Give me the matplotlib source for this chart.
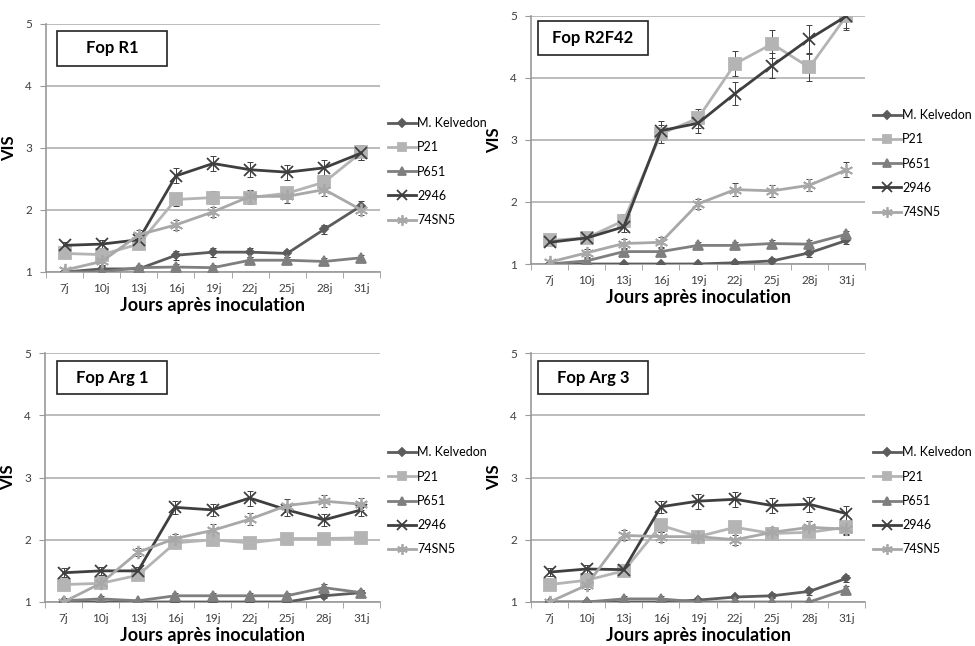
import matplotlib
matplotlib.use("Agg")
import matplotlib.pyplot as plt
from matplotlib.patches import Rectangle
import numpy as np

plt.rcParams['font.family'] = ['Lato', 'DejaVu Sans']

jours = ["7j", "10j", "13j", "16j", "19j", "22j", "25j", "28j", "31j"]
lignees = ["M. Kelvedon", "P21", "P651", "2946", "74SN5"]

# Fop R1
r1_kelvedon = [1.0, 1.05, 1.05, 1.27, 1.32, 1.32, 1.30, 1.69, 2.07]
r1_p21 = [1.30, 1.28, 1.45, 2.17, 2.20, 2.20, 2.27, 2.45, 2.93]
r1_p651 = [1.0, 1.0, 1.07, 1.08, 1.07, 1.19, 1.19, 1.17, 1.23]
r1_2946 = [1.43, 1.45, 1.52, 2.55, 2.75, 2.65, 2.61, 2.68, 2.92]
r1_74sn5 = [1.03, 1.17, 1.60, 1.76, 1.97, 2.22, 2.22, 2.33, 2.00]
r1_err = [[0, 0.05, 0.05, 0.07, 0.07, 0.07, 0.06, 0.07, 0.08],
          [0.06, 0.06, 0.08, 0.10, 0.10, 0.10, 0.10, 0.10, 0.12],
          [0, 0, 0.04, 0.05, 0.04, 0.05, 0.05, 0.05, 0.05],
          [0.06, 0.06, 0.08, 0.12, 0.12, 0.12, 0.12, 0.12, 0.12],
          [0.04, 0.06, 0.08, 0.08, 0.08, 0.10, 0.10, 0.10, 0.08]]

# Fop R2F42
r2_kelvedon = [1.0, 1.0, 1.0, 1.0, 1.0, 1.02, 1.05, 1.18, 1.38]
r2_p21 = [1.38, 1.42, 1.70, 3.10, 3.35, 4.23, 4.55, 4.17, 5.0]
r2_p651 = [1.0, 1.05, 1.20, 1.20, 1.30, 1.30, 1.33, 1.32, 1.48]
r2_2946 = [1.35, 1.42, 1.60, 3.15, 3.27, 3.75, 4.20, 4.63, 5.0]
r2_74sn5 = [1.03, 1.18, 1.33, 1.35, 1.97, 2.20, 2.18, 2.27, 2.52]
r2_err = [[0, 0.02, 0, 0, 0, 0.03, 0.04, 0.06, 0.06],
          [0.05, 0.05, 0.10, 0.15, 0.15, 0.20, 0.22, 0.22, 0.22],
          [0, 0.04, 0.06, 0.06, 0.06, 0.06, 0.06, 0.06, 0.06],
          [0.05, 0.05, 0.08, 0.15, 0.15, 0.18, 0.20, 0.22, 0.20],
          [0.03, 0.06, 0.08, 0.08, 0.08, 0.10, 0.10, 0.10, 0.12]]

# Fop Arg 1
a1_kelvedon = [1.0, 1.0, 1.0, 1.0, 1.0, 1.0, 1.0, 1.10, 1.15]
a1_p21 = [1.28, 1.30, 1.43, 1.95, 2.00, 1.95, 2.02, 2.02, 2.03]
a1_p651 = [1.02, 1.05, 1.02, 1.10, 1.10, 1.10, 1.10, 1.23, 1.15]
a1_2946 = [1.47, 1.50, 1.50, 2.52, 2.48, 2.67, 2.48, 2.32, 2.48]
a1_74sn5 = [1.0, 1.30, 1.80, 2.02, 2.15, 2.33, 2.55, 2.62, 2.57]
a1_err = [[0, 0, 0, 0, 0, 0, 0, 0.04, 0.05],
          [0.06, 0.06, 0.06, 0.06, 0.06, 0.06, 0.06, 0.06, 0.06],
          [0.04, 0.04, 0.03, 0.05, 0.05, 0.05, 0.05, 0.06, 0.05],
          [0.07, 0.07, 0.07, 0.10, 0.10, 0.12, 0.10, 0.10, 0.10],
          [0.03, 0.06, 0.06, 0.08, 0.10, 0.10, 0.10, 0.10, 0.10]]

# Fop Arg 3
a3_kelvedon = [1.0, 1.0, 1.0, 1.0, 1.03, 1.08, 1.10, 1.17, 1.38]
a3_p21 = [1.28, 1.35, 1.50, 2.23, 2.05, 2.20, 2.10, 2.12, 2.20]
a3_p651 = [1.0, 1.0, 1.05, 1.05, 1.0, 1.0, 1.0, 1.0, 1.20]
a3_2946 = [1.48, 1.53, 1.52, 2.53, 2.62, 2.65, 2.55, 2.57, 2.42]
a3_74sn5 = [1.0, 1.27, 2.07, 2.05, 2.05, 2.00, 2.12, 2.20, 2.17]
a3_err = [[0, 0, 0, 0, 0.03, 0.04, 0.04, 0.05, 0.06],
          [0.06, 0.06, 0.06, 0.10, 0.06, 0.08, 0.08, 0.08, 0.10],
          [0.03, 0, 0.04, 0.04, 0, 0, 0, 0, 0.06],
          [0.06, 0.06, 0.06, 0.10, 0.12, 0.12, 0.12, 0.12, 0.12],
          [0.03, 0.06, 0.08, 0.08, 0.08, 0.08, 0.08, 0.10, 0.10]]

couleurs = ["#5c5c5c", "#b4b4b4", "#7f7f7f", "#3f3f3f", "#a8a8a8"]
marqueurs = ["D", "s", "^", "x", (6, 2, 0)]
tailles = [4.5, 8, 7.5, 8.5, 9.5]

W, H = 975, 646
fig = plt.figure(figsize=(W / 100, H / 100), dpi=100)

# (titre, series, erreurs, gauche px, droite px, haut px, bas px, boite px)
panneaux = [
    ("Fop R1", [r1_kelvedon, r1_p21, r1_p651, r1_2946, r1_74sn5], r1_err,
     46, 380, 24, 272, (57, 31, 167, 66)),
    ("Fop R2F42", [r2_kelvedon, r2_p21, r2_p651, r2_2946, r2_74sn5], r2_err,
     531, 865, 16, 264, (538, 21, 648, 55)),
    ("Fop Arg 1", [a1_kelvedon, a1_p21, a1_p651, a1_2946, a1_74sn5], a1_err,
     45, 380, 353, 602, (57, 361, 167, 394)),
    ("Fop Arg 3", [a3_kelvedon, a3_p21, a3_p651, a3_2946, a3_74sn5], a3_err,
     531, 865, 353, 602, (538, 361, 648, 394)),
]

x = np.arange(len(jours))
for titre, series, erreurs, g, d, hpx, bpx, boite in panneaux:
    ax = fig.add_axes([g / W, 1 - bpx / H, (d - g) / W, (bpx - hpx) / H])
    for vals, err, c, m, ms, nom in zip(series, erreurs, couleurs, marqueurs, tailles, lignees):
        ax.errorbar(x, vals, yerr=err, fmt="none", ecolor="#404040", elinewidth=0.7,
                    capsize=2.5, capthick=0.7, zorder=2)
        ax.plot(x, vals, color=c, lw=2, marker=m, ms=ms, mec=c, mew=1.3, label=nom, zorder=3)

    ax.set_xlim(-0.5, len(jours) - 0.5)
    ax.set_ylim(1, 5)
    ax.set_yticks([1, 2, 3, 4, 5])
    ax.set_xticks(x)
    ax.set_xticklabels(jours)
    ax.set_xticks(np.arange(-0.5, len(jours)), minor=True)
    ax.tick_params(axis="x", which="major", length=0, pad=8, labelsize=8.5, colors="#404040")
    ax.tick_params(axis="x", which="minor", length=4, color="#999999", direction="out")
    ax.tick_params(axis="y", length=4, color="#999999", labelsize=8.5, labelcolor="#404040", pad=6)
    ax.grid(axis="y", color="#b0b0b0", lw=1.2)
    ax.set_axisbelow(True)
    for s in ["top", "right"]:
        ax.spines[s].set_visible(False)
    for s in ["left", "bottom"]:
        ax.spines[s].set_color("#999999")
        ax.spines[s].set_linewidth(1.2)

    ax.set_xlabel("Jours après inoculation", fontsize=13, fontweight="bold", labelpad=2)
    ax.set_ylabel("VIS", fontsize=12, fontweight="bold", labelpad=6)

    # cadre du titre
    bx0, by0, bx1, by1 = boite
    ax.add_patch(Rectangle(((bx0 - g) / (d - g), (bpx - by1) / (bpx - hpx)),
                           (bx1 - bx0) / (d - g), (by1 - by0) / (bpx - hpx),
                           transform=ax.transAxes, fill=False, ec="#222222", lw=1.2,
                           clip_on=False, zorder=5))
    ax.text(((bx0 + bx1) / 2 - g) / (d - g), (bpx - (by0 + by1) / 2) / (bpx - hpx), titre,
            transform=ax.transAxes, ha="center", va="center", fontsize=12, fontweight="bold")

    ax.legend(loc="upper left", bbox_to_anchor=(1.01, 0.645), frameon=False, fontsize=9,
              handlelength=2.2, handletextpad=0.1, labelspacing=0.98, borderaxespad=0,
              markerscale=0.8)

fig.savefig("out.png", dpi=100)
